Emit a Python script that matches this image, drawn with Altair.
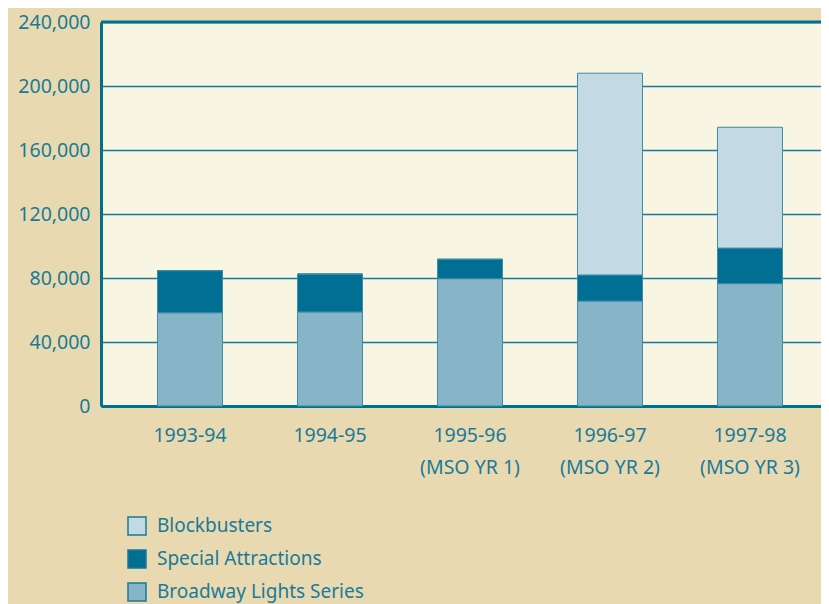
import altair as alt
import pandas as pd

seasons = ["1993-94", "1994-95", "1995-96\n(MSO YR 1)", "1996-97\n(MSO YR 2)", "1997-98\n(MSO YR 3)"]
broadway = [58300, 58800, 79600, 65600, 76500]
special = [26300, 23700, 12100, 16300, 22200]
blockbusters = [0, 0, 0, 126100, 75500]

series = ["Blockbusters", "Special Attractions", "Broadway Lights Series"]
colors = ["#c3d9e3", "#006f93", "#87b4c7"]
ranks = {"Broadway Lights Series": 0, "Special Attractions": 1, "Blockbusters": 2}

rows = []
for i, s in enumerate(seasons):
    for name, vals in (("Broadway Lights Series", broadway), ("Special Attractions", special), ("Blockbusters", blockbusters)):
        rows.append({"season": s, "series": name, "value": vals[i], "rank": ranks[name]})
df = pd.DataFrame(rows)

TEAL = "#1a7a99"
DARK = "#00708f"
FONT = "Noto Sans"

bars = alt.Chart(df).mark_bar(size=65, stroke="#3f8ba6", strokeWidth=1).encode(
    x=alt.X("season:N", sort=seasons, title=None,
            scale=alt.Scale(paddingInner=0, paddingOuter=0.0714, align=0.95),
            axis=alt.Axis(labelExpr="split(datum.label, '\\n')", labelAngle=0,
                          labelFontSize=19.5, labelColor=TEAL, labelFont=FONT,
                          labelPadding=20, labelLineHeight=32, labelBaseline="top",
                          ticks=False, domainColor=DARK, domainWidth=3)),
    y=alt.Y("value:Q", stack="zero", title=None,
            scale=alt.Scale(domain=[0, 240000], nice=False),
            axis=alt.Axis(values=[0, 40000, 80000, 120000, 160000, 200000, 240000],
                          format=",d", labelFontSize=19.5, labelColor=TEAL, labelFont=FONT,
                          labelPadding=11, ticks=False, domainColor=DARK, domainWidth=3,
                          grid=True, gridColor=TEAL, gridWidth=1.5, gridOpacity=1)),
    color=alt.Color("series:N", scale=alt.Scale(domain=series, range=colors), title=None,
                    legend=alt.Legend(orient="none", legendX=26, legendY=494,
                                      symbolType="square", symbolSize=324,
                                      symbolStrokeColor=TEAL, symbolStrokeWidth=1.5,
                                      labelFontSize=19, labelColor=TEAL, labelFont=FONT,
                                      labelOffset=10, rowPadding=9, symbolOpacity=1,
                                      labelLimit=500)),
    order=alt.Order("rank:Q"),
)

top_border = alt.Chart(pd.DataFrame({"v": [240000]})).mark_rule(color=DARK, strokeWidth=3).encode(
    y=alt.Y("v:Q")
)

chart = alt.layer(top_border, bars).properties(
    width=720, height=384,
    autosize=alt.AutoSizeParams(type="none"),
    padding={"left": 93, "top": 14, "right": 0, "bottom": 198},
).configure(
    background="#e8d9b1",
).configure_view(
    fill="#f8f5e3", strokeWidth=0,
)

chart.save("out.html", embed_options={"renderer": "svg", "actions": False})
